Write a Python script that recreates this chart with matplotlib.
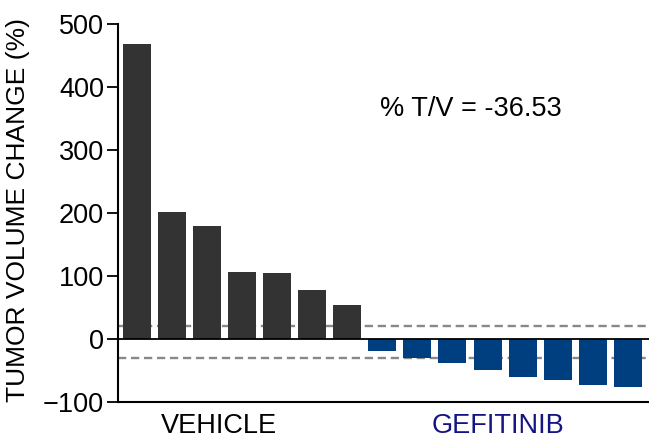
import numpy as np
import matplotlib
matplotlib.use("Agg")
from matplotlib import pyplot as plt

plt.rcParams['font.family'] = ['Liberation Sans', 'DejaVu Sans']

# tumour volume change per animal (%), sorted high to low
vehicle = [468, 202, 179, 106, 104, 77, 53]
gefitinib = [-20, -31, -39, -49, -60, -66, -74, -76]
group_names = ["VEHICLE", "GEFITINIB"]
thresholds = [20, -30]
tv_ratio = -36.53
yticks = [-100, 0, 100, 200, 300, 400, 500]

dark = '#333333'
blue = '#003f7f'
navy = '#141482'
fs = 19.5

values = vehicle + gefitinib
colors = [dark] * len(vehicle) + [blue] * len(gefitinib)
x = np.arange(len(values))

fig = plt.figure(figsize=(6.49, 4.42), dpi=100)
ax = fig.add_axes([0.1818, 0.0912, 0.8182, 0.8545])

for t in thresholds:
    ax.axhline(t, color='#888888', lw=1.7, dashes=(3.5, 2), zorder=1)
ax.bar(x, values, width=0.8, color=colors, zorder=2)
ax.axhline(0, color='black', lw=1.3, zorder=3)

ax.set_xlim(-0.53, 14.6)
ax.set_ylim(-100, 500)
ax.set_yticks(yticks)
ax.set_xticks([])
ax.tick_params(axis='y', labelsize=fs, length=8, width=1.3, pad=2)
for s in ['top', 'right']:
    ax.spines[s].set_visible(False)
for s in ['left', 'bottom']:
    ax.spines[s].set_linewidth(1.5)

ax.set_ylabel("TUMOR VOLUME CHANGE (%)", fontsize=19)
ax.yaxis.set_label_coords(-0.165, 0.507)

ax.text(2.35, -138, group_names[0], fontsize=fs, ha='center', va='center',
        color='black')
ax.text(10.31, -138, group_names[1], fontsize=fs, ha='center', va='center',
        color=navy)
ax.text(9.52, 365, "% T/V = {:.2f}".format(tv_ratio), fontsize=fs,
        ha='center', va='center')

fig.savefig("out.png", dpi=100)
